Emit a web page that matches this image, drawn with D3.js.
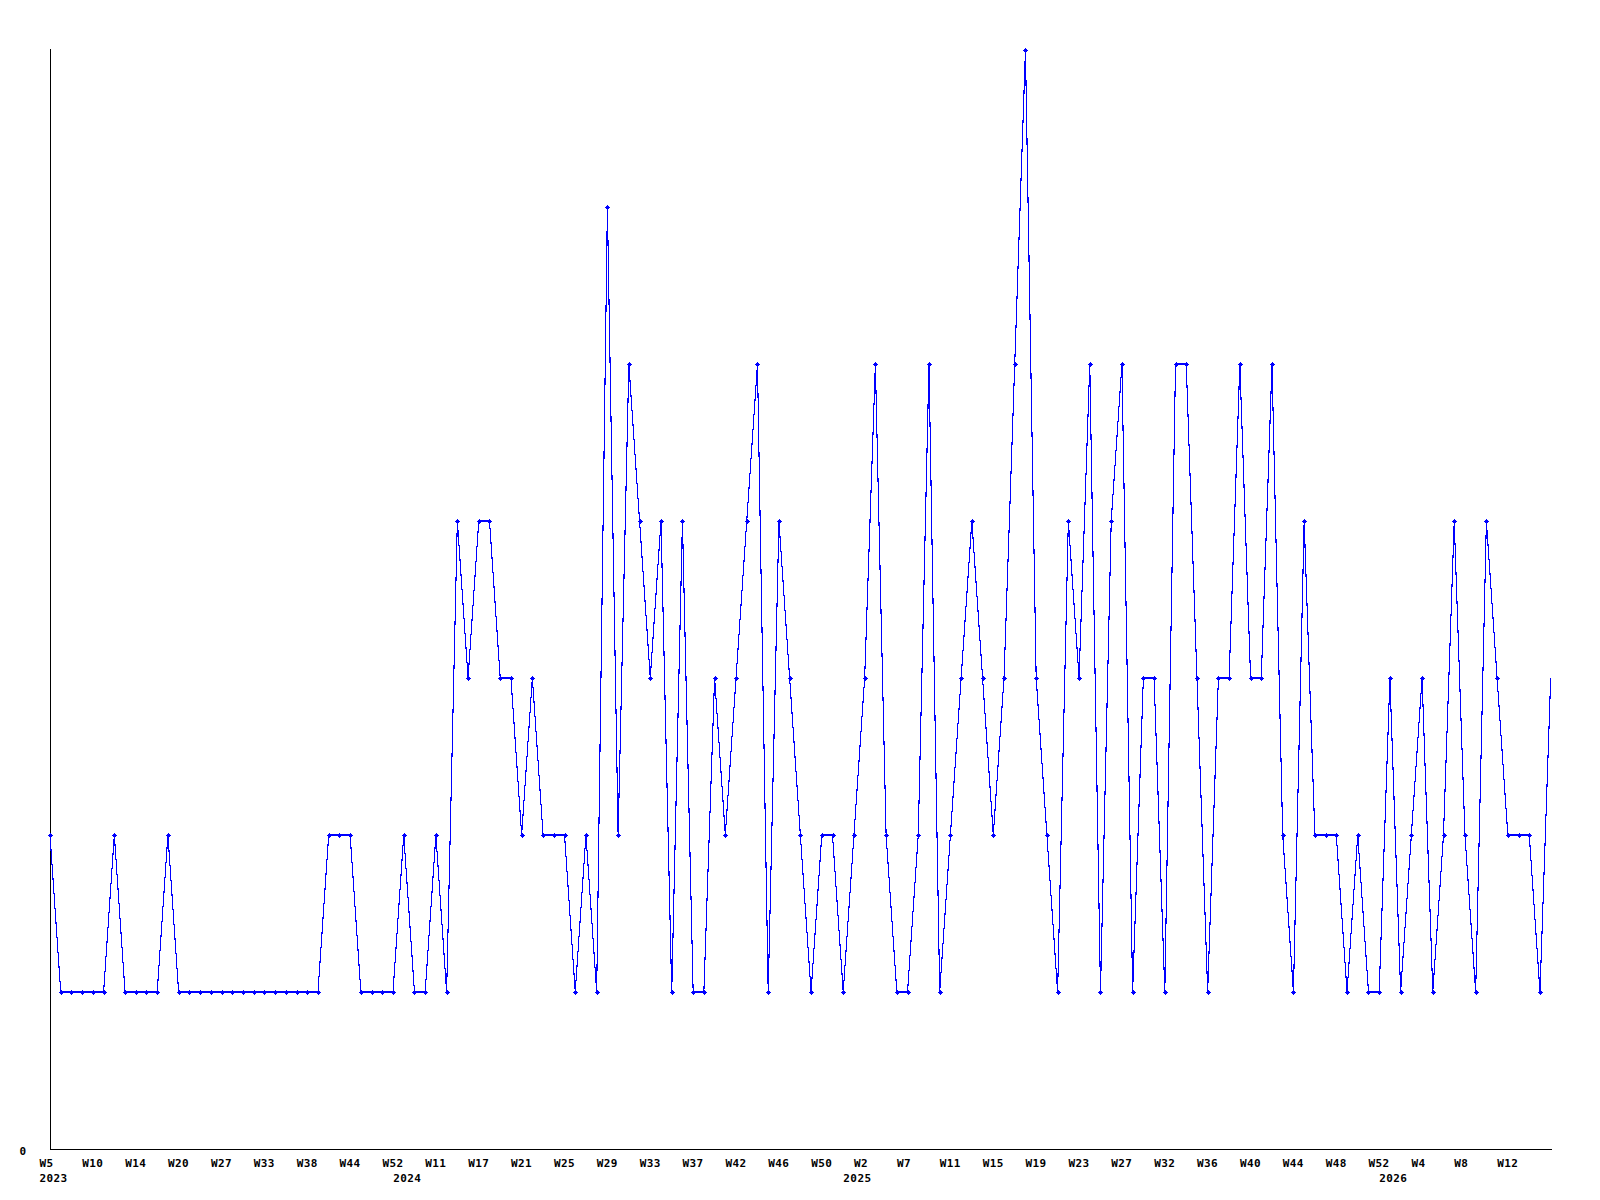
<!DOCTYPE html>
<html>
<head>
<meta charset="utf-8">
<script src="https://cdn.jsdelivr.net/npm/d3@7"></script>
<style>
  html, body { margin: 0; padding: 0; background: #fff; }
  svg { display: block; }
  text { font-family: "DejaVu Sans Mono", "Liberation Mono", monospace; font-weight: bold; font-size: 11px; letter-spacing: 0.4px; fill: #000; }
</style>
</head>
<body>
<svg id="chart" width="1600" height="1200"></svg>
<script>
// Weekly values (one point per week with data)
const values = [
  2,1,1,1,1,1,2,1,1,1,
  1,2,1,1,1,1,1,1,1,1,
  1,1,1,1,1,1,2,2,2,1,
  1,1,1,2,1,1,2,1,4,3,
  4,4,3,3,2,3,2,2,2,1,
  2,1,6,2,5,4,3,4,1,4,
  1,1,3,2,3,4,5,1,4,3,
  2,1,2,2,1,2,3,5,2,1,
  1,2,5,1,2,3,4,3,2,3,
  5,7,3,2,1,4,3,5,1,4,
  5,1,3,3,1,5,5,3,1,3,
  3,5,3,3,5,2,1,4,2,2,
  2,1,2,1,1,3,1,2,3,1,
  2,4,2,1,4,3,2,2,2,1,
  3
];
// X-axis tick labels, one every 4th point
const tickEvery = 4;
const weekLabels = [
  "W5","W10","W14","W20","W27","W33","W38","W44","W52",
  "W11","W17","W21","W25","W29","W33","W37","W42","W46","W50",
  "W2","W7","W11","W15","W19","W23","W27","W32","W36","W40","W44","W48","W52",
  "W4","W8","W12"
];
// Year labels at the first point of each year
const yearLabels = ["2023","2024","2025","2026"];
const yearStartIdx = [0, 33, 75, 125];
const yTickValues = [0];

const svg = d3.select("#chart");
const n = values.length;
const x = d3.scaleLinear().domain([0, n - 1]).range([50, 1550.7]);
const y = d3.scaleLinear().domain([0, 7]).range([1149, 50]);

// axes lines
svg.append("line").attr("x1", 50.5).attr("x2", 50.5).attr("y1", 49).attr("y2", 1150)
  .attr("stroke", "#000").attr("stroke-width", 1).attr("shape-rendering", "crispEdges");
svg.append("line").attr("x1", 50).attr("x2", 1552).attr("y1", 1149.5).attr("y2", 1149.5)
  .attr("stroke", "#000").attr("stroke-width", 1).attr("shape-rendering", "crispEdges");

// y tick label
svg.selectAll("text.ylab").data(yTickValues).enter().append("text")
  .attr("class", "ylab").attr("x", 19.5).attr("y", d => y(d) + 5.5).text(d => d);

// x tick labels
svg.selectAll("text.xlab").data(weekLabels).enter().append("text")
  .attr("class", "xlab")
  .attr("x", (d, i) => x(i * tickEvery) - 10.6)
  .attr("y", 1166.5)
  .text(d => d);

// year labels
svg.selectAll("text.year").data(yearLabels).enter().append("text")
  .attr("class", "year")
  .attr("x", (d, i) => x(yearStartIdx[i]) - 10.6)
  .attr("y", 1182)
  .text(d => d);

// line
const line = d3.line().x((d, i) => x(i)).y(d => y(d));
svg.append("path").datum(values)
  .attr("d", line)
  .attr("fill", "none").attr("stroke", "#0000ff").attr("stroke-width", 1.1)
  .attr("shape-rendering", "crispEdges");

// markers (last point has none)
const marker = "M-2.5,-0.5h5v1h-5z M-0.5,-2.5h1v5h-1z M-1.5,-1.5h3v3h-3z";
svg.selectAll("path.pt").data(values.slice(0, n - 1)).enter().append("path")
  .attr("class", "pt")
  .attr("transform", (d, i) => `translate(${Math.round(x(i))},${Math.round(y(d))})`)
  .attr("d", marker)
  .attr("fill", "#0000ff")
  .attr("shape-rendering", "crispEdges");
</script>
</body>
</html>
